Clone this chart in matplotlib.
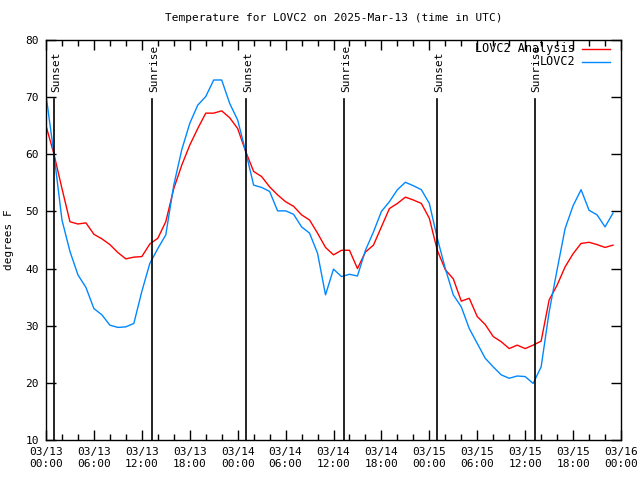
import numpy as np
import matplotlib
matplotlib.use('Agg')
import matplotlib.pyplot as plt

# hourly values starting 2025-03-13 00:00 UTC
hours = list(range(72))
analysis = [65.0, 60.0, 54.0, 48.2, 47.8, 48.0, 46.0, 45.2, 44.2, 42.8,
            41.7, 42.0, 42.1, 44.3, 45.3, 48.2, 54.0, 58.1, 61.6, 64.5,
            67.2, 67.2, 67.6, 66.4, 64.5, 60.5, 57.0, 56.1, 54.3, 52.9,
            51.7, 50.9, 49.4, 48.5, 46.2, 43.7, 42.4, 43.2, 43.2, 40.0,
            42.9, 44.1, 47.3, 50.5, 51.4, 52.5, 52.0, 51.4, 48.8, 43.2,
            39.8, 38.2, 34.3, 34.8, 31.6, 30.2, 28.1, 27.2, 26.0, 26.6,
            26.0, 26.6, 27.3, 34.5, 37.1, 40.3, 42.6, 44.4, 44.6, 44.2,
            43.7, 44.1]
observed = [70.4, 60.0, 48.5, 43.0, 38.9, 36.7, 33.0, 31.9, 30.1, 29.7,
            29.8, 30.4, 36.0, 40.9, 43.5, 45.9, 54.6, 60.8, 65.4, 68.6,
            70.1, 73.0, 73.0, 68.9, 66.0, 60.5, 54.6, 54.2, 53.5, 50.1,
            50.1, 49.5, 47.3, 46.2, 42.7, 35.4, 39.9, 38.6, 39.0, 38.7,
            43.2, 46.4, 50.0, 51.7, 53.8, 55.1, 54.5, 53.8, 51.4, 45.3,
            40.0, 35.4, 33.3, 29.5, 26.9, 24.3, 22.8, 21.4, 20.8, 21.2,
            21.1, 19.9, 22.8, 32.4, 39.8, 47.0, 51.0, 53.8, 50.2, 49.4,
            47.3, 49.7]

sun_hours = [1.05, 13.3, 25.1, 37.35, 49.0, 61.25]
sun_labels = ['Sunset', 'Sunrise', 'Sunset', 'Sunrise', 'Sunset', 'Sunrise']

xtick_hours = list(range(0, 73, 6))
xtick_labels = ['03/13\n00:00', '03/13\n06:00', '03/13\n12:00', '03/13\n18:00',
                '03/14\n00:00', '03/14\n06:00', '03/14\n12:00', '03/14\n18:00',
                '03/15\n00:00', '03/15\n06:00', '03/15\n12:00', '03/15\n18:00',
                '03/16\n00:00']

plt.rcParams['font.family'] = ['DejaVu Sans Mono']
plt.rcParams['font.size'] = 8

fig = plt.figure(figsize=(6.4, 4.8), dpi=100)
ax = fig.add_axes([46/640, 1-440/480, 575/640, 400/480])

series = [(analysis, '#ff0000', 'LOVC2 Analysis'),
          (observed, '#0088ff', 'LOVC2')]
for vals, col, lab in series:
    ax.plot(hours, vals, color=col, lw=1.0)

for h, lab in zip(sun_hours, sun_labels):
    ax.plot([h, h], [10, 69.7], color='black', lw=1.2)
    ax.text(h + 0.2, 70.9, lab, rotation=90, ha='center', va='bottom', fontsize=8)

# gnuplot style key: right aligned text, sample line after it
key_y = [0.9775, 0.945]
for (vals, col, lab), ky in zip(series, key_y):
    ax.text(0.92, ky, lab, transform=ax.transAxes, ha='right', va='center',
            fontsize=8.5)
    ax.plot([0.932, 0.981], [ky, ky], transform=ax.transAxes, color=col, lw=1.0)

ax.set_xlim(0, 72)
ax.set_ylim(10, 80)
ax.set_xticks(xtick_hours)
ax.set_xticklabels(xtick_labels)
ax.set_xticks(range(0, 73, 2), minor=True)
ax.set_yticks(range(10, 81, 10))
ax.tick_params(which='major', direction='in', length=7, width=1,
               top=True, right=True, pad=5)
ax.tick_params(which='minor', direction='in', length=4, width=1,
               top=True, right=False, left=False)
for s in ax.spines.values():
    s.set_linewidth(1.0)

ax.set_title('Temperature for LOVC2 on 2025-Mar-13 (time in UTC)', fontsize=8, pad=14)
ax.set_ylabel('degrees F', fontsize=8, labelpad=8)

fig.savefig('out.png', dpi=100)
